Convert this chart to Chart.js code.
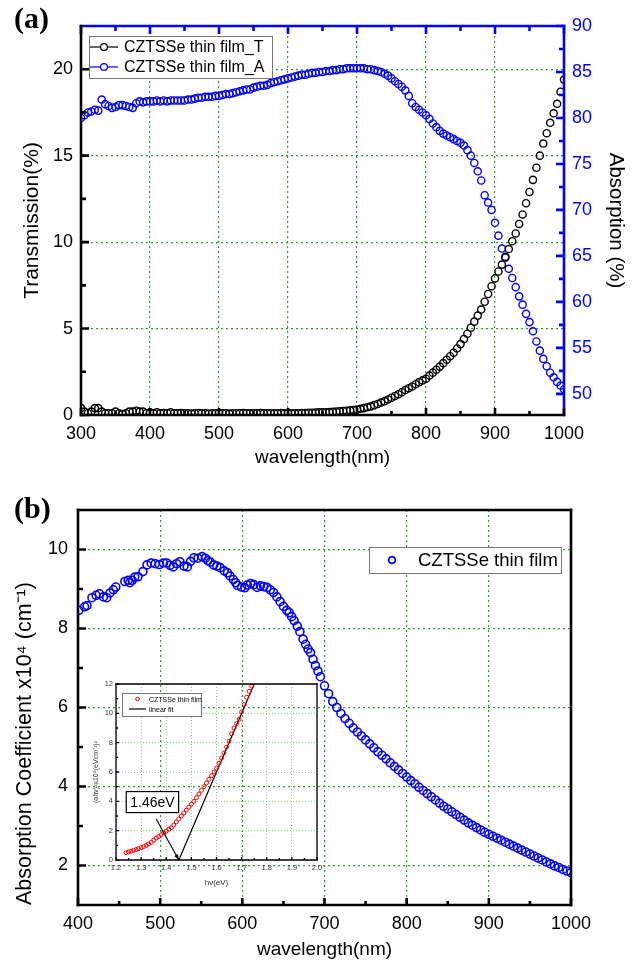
<!DOCTYPE html>
<html>
<head>
<meta charset="utf-8">
<title>CZTSSe thin film</title>
<script src="https://cdn.jsdelivr.net/npm/chart.js@4.4.0/dist/chart.umd.min.js"></script>
<style>
  body { margin: 0; background: #fff; width: 639px; height: 966px; position: relative; overflow: hidden; }
  canvas { position: absolute; }
  .panel { position: absolute; font-family: 'Liberation Serif', 'Times New Roman', serif; font-weight: bold; font-size: 30px; }
</style>
</head>
<body>
<canvas id="chartA" width="639" height="480" style="left:0;top:0"></canvas>
<canvas id="chartB" width="639" height="496" style="left:0;top:470px"></canvas>
<canvas id="inset" width="280" height="232" style="left:60px;top:670px"></canvas>
<div class="panel" style="left:14px;top:1px">(a)</div>
<div class="panel" style="left:14px;top:491px">(b)</div>
<script>

// ---- (a) transmission / absorption vs wavelength ----
const wavelengthA = [
  300,305,310,315,320,325,330,335,340,345, 350,355,360,365,370,375,380,385,390,395,
  400,405,410,415,420,425,430,435,440,445, 450,455,460,465,470,475,480,485,490,495,
  500,505,510,515,520,525,530,535,540,545, 550,555,560,565,570,575,580,585,590,595,
  600,605,610,615,620,625,630,635,640,645, 650,655,660,665,670,675,680,685,690,695,
  700,705,710,715,720,725,730,735,740,745, 750,755,760,765,770,775,780,785,790,795,
  800,805,810,815,820,825,830,835,840,845, 850,855,860,865,870,875,880,885,890,895,
  900,905,910,915,920,925,930,935,940,945, 950,955,960,965,970,975,980,985,990,995,
  1000
];
const transmission = [
  0.4,0.2,0.1,0.2,0.4,0.4,0.2,0.1,0.1,0.1, 0.2,0.1,0.05,0.1,0.2,0.2,0.25,0.2,0.2,0.1,
  0.15,0.1,0.15,0.1,0.12,0.1,0.15,0.1,0.1,0.12, 0.1,0.1,0.08,0.1,0.12,0.1,0.1,0.08,0.1,0.1,
  0.12,0.1,0.1,0.08,0.1,0.1,0.1,0.12,0.1,0.1, 0.1,0.1,0.12,0.1,0.1,0.1,0.1,0.1,0.12,0.1,
  0.1,0.1,0.1,0.1,0.12,0.12,0.13,0.13,0.14,0.15, 0.15,0.16,0.17,0.18,0.2,0.21,0.23,0.25,0.27,0.29,
  0.32,0.36,0.4,0.45,0.5,0.57,0.64,0.72,0.8,0.9, 1.0,1.1,1.2,1.32,1.45,1.55,1.65,1.78,1.9,2.0,
  2.1,2.28,2.45,2.62,2.8,3.0,3.2,3.4,3.6,3.85, 4.1,4.4,4.7,5.05,5.4,5.75,6.1,6.55,7.0,7.45,
  7.9,8.3,8.7,9.15,9.6,10.05,10.5,11.05,11.6,12.25, 12.9,13.6,14.3,15.0,15.7,16.3,16.9,17.45,18.0,18.7,
  19.4
];
const absorption = [
  80.0,80.3,80.6,80.7,80.9,80.8,82.0,81.5,81.3,81.1, 81.2,81.4,81.4,81.3,81.2,81.1,81.6,81.8,81.7,81.8,
  81.8,81.8,81.9,81.8,81.9,81.8,81.9,81.9,81.9,81.9, 81.9,82.0,82.0,82.1,82.2,82.2,82.3,82.3,82.3,82.4,
  82.4,82.5,82.6,82.6,82.7,82.8,82.9,83.0,83.1,83.1, 83.3,83.4,83.5,83.5,83.6,83.8,83.9,84.0,84.1,84.2,
  84.3,84.4,84.5,84.6,84.7,84.7,84.8,84.9,84.9,85.0, 85.0,85.1,85.1,85.2,85.2,85.3,85.3,85.4,85.4,85.4,
  85.4,85.4,85.4,85.3,85.3,85.2,85.1,85.0,84.8,84.6, 84.3,84.0,83.7,83.4,83.0,82.4,81.6,81.2,80.9,80.6,
  80.3,79.9,79.4,79.0,78.6,78.3,78.1,77.9,77.7,77.5, 77.3,77.0,76.5,75.9,75.1,74.2,73.2,71.6,70.8,70.0,
  68.6,67.2,65.8,64.8,63.6,62.6,61.6,60.6,59.7,58.7, 57.8,56.8,55.7,54.7,53.8,53.0,52.3,51.8,51.3,50.9,
  50.5
];
const xTicksA = [300, 400, 500, 600, 700, 800, 900, 1000];
const yTicksA = [0, 5, 10, 15, 20];
const y2TicksA = [50, 55, 60, 65, 70, 75, 80, 85, 90];

// ---- (b) absorption coefficient vs wavelength ----
const wavelengthB = [
  401,408,411,417,422,426,431,435,439,443,446,457,461,463,466,469,473,479,484,489,
  494,499,504,508,512,516,520,524,529,533,537,541,546,551,555,558,561,565,569,573,
  578,582,585,589,592,594,599,603,606,610,614,618,622,626,630,634,638,642,646,650,
  654,657,660,663,667,670,674,677,680,683,686,689,692,
  695,700,705,710,715,720,725,730,735,740, 745,750,755,760,765,770,775,780,785,790,
  795,800,805,810,815,820,825,830,835,840, 845,850,855,860,865,870,875,880,885,890,
  895,900,905,910,915,920,925,930,935,940, 945,950,955,960,965,970,975,980,985,990,
  995,1000
];
const absCoeff = [
  8.46,8.55,8.58,8.78,8.84,8.88,8.80,8.78,8.90,8.98,9.05,9.19,9.22,9.16,9.22,9.30,9.31,9.44,9.61,9.66,
  9.64,9.62,9.66,9.66,9.60,9.56,9.64,9.69,9.58,9.56,9.70,9.79,9.78,9.82,9.78,9.72,9.68,9.61,9.58,9.54,
  9.46,9.41,9.33,9.24,9.16,9.09,9.05,9.03,9.10,9.14,9.11,9.04,9.08,9.06,9.04,8.98,8.91,8.80,8.68,8.56,
  8.46,8.40,8.30,8.20,8.06,7.92,7.73,7.60,7.48,7.39,7.22,7.06,6.92,
  6.78,6.55,6.35,6.15,6.0,5.85,5.72,5.6,5.48,5.38, 5.28,5.18,5.08,4.98,4.88,4.79,4.7,4.6,4.51,4.42,
  4.33,4.24,4.15,4.07,3.98,3.9,3.82,3.74,3.66,3.58, 3.5,3.43,3.36,3.29,3.22,3.15,3.08,3.02,2.96,2.9,
  2.84,2.79,2.74,2.69,2.64,2.59,2.54,2.49,2.44,2.39, 2.34,2.29,2.24,2.19,2.14,2.09,2.04,1.99,1.95,1.9,
  1.86,1.82
];
const xTicksB = [400, 500, 600, 700, 800, 900, 1000];
const yTicksB = [2, 4, 6, 8, 10];

// ---- inset: Tauc plot ----
const photonEnergy = [
  1.24,1.25,1.26,1.27,1.28,1.29,1.30,1.31,1.32,1.33,1.34,1.35,1.36,1.37,1.38,1.39,1.40,
  1.41,1.42,1.43,1.44,1.45,1.46,1.47,1.48,1.49,1.50,1.51,1.52,1.53,1.54,1.55,1.56,1.57,
  1.58,1.59,1.60,1.61,1.62,1.63,1.64,1.65,1.66,1.67,1.68,1.69,1.70,1.71,1.72,1.73,1.74
];
const tauc = [
  0.50,0.55,0.60,0.65,0.71,0.77,0.84,0.91,0.99,1.10,1.20,1.35,1.50,1.60,1.72,1.85,1.98,
  2.10,2.20,2.38,2.60,2.80,3.00,3.20,3.40,3.60,3.80,4.00,4.25,4.50,4.75,5.00,5.25,5.50,
  5.75,6.00,6.25,6.60,6.95,7.30,7.70,8.10,8.60,9.00,9.30,9.60,10.1,10.6,11.1,11.5,11.85
];
const fitEnergy = [1.45, 1.75];
const fitValue = [0, 12];
const xTicksInset = [1.2, 1.3, 1.4, 1.5, 1.6, 1.7, 1.8, 1.9, 2.0];
const yTicksInset = [0, 2, 4, 6, 8, 10, 12];

Chart.defaults.font.family = "'Liberation Sans', Arial, sans-serif";
Chart.defaults.color = '#000';

const pairs = (xs, ys) => xs.map((x, i) => ({ x: x, y: ys[i] }));
const fixTicks = vals => (s => { s.ticks = vals.map(v => ({ value: v })); });
const plain = v => String(v);

// frame lines and inward major/minor ticks
const frameTicks = {
  id: 'frameTicks',
  afterDraw(chart, args, o) {
    const { ctx, chartArea: a } = chart;
    (o.sides || []).forEach(s => {
      ctx.save();
      ctx.strokeStyle = s.color;
      ctx.lineWidth = s.width;
      ctx.lineCap = 'square';
      ctx.beginPath();
      if (s.side === 'left') { ctx.moveTo(a.left, a.top); ctx.lineTo(a.left, a.bottom); }
      if (s.side === 'right') { ctx.moveTo(a.right, a.top); ctx.lineTo(a.right, a.bottom); }
      if (s.side === 'top') { ctx.moveTo(a.left, a.top); ctx.lineTo(a.right, a.top); }
      if (s.side === 'bottom') { ctx.moveTo(a.left, a.bottom); ctx.lineTo(a.right, a.bottom); }
      ctx.stroke();
      if (s.scale) {
        const sc = chart.scales[s.scale];
        const vals = sc.ticks.map(t => t.value);
        const minor = [];
        for (let i = 0; i < vals.length - 1; i++) minor.push((vals[i] + vals[i + 1]) / 2);
        const step = vals[1] - vals[0];
        [vals[0] - step / 2, vals[vals.length - 1] + step / 2].forEach(v => {
          if (v > sc.min && v < sc.max) minor.push(v);
        });
        ctx.lineCap = 'butt';
        const mark = (v, len) => {
          const p = sc.getPixelForValue(v);
          if (s.side === 'left') { ctx.moveTo(a.left, p); ctx.lineTo(a.left + len, p); }
          if (s.side === 'right') { ctx.moveTo(a.right, p); ctx.lineTo(a.right - len, p); }
          if (s.side === 'top') { ctx.moveTo(p, a.top); ctx.lineTo(p, a.top + len); }
          if (s.side === 'bottom') { ctx.moveTo(p, a.bottom); ctx.lineTo(p, a.bottom - len); }
        };
        ctx.beginPath();
        vals.forEach(v => mark(v, s.major));
        minor.forEach(v => mark(v, s.minor));
        ctx.stroke();
      }
      ctx.restore();
    });
  }
};

// legend box drawn inside the plot
const boxLegend = {
  id: 'boxLegend',
  afterDraw(chart, args, o) {
    if (!o.items) return;
    const { ctx, chartArea: a } = chart;
    const x0 = a.left + o.dx, y0 = a.top + o.dy;
    ctx.save();
    ctx.fillStyle = '#fff';
    ctx.fillRect(x0, y0, o.w, o.h);
    ctx.strokeStyle = '#777';
    ctx.lineWidth = 1;
    ctx.strokeRect(x0 + 0.5, y0 + 0.5, o.w, o.h);
    ctx.font = o.font;
    ctx.textBaseline = 'middle';
    o.items.forEach((it, i) => {
      const ds = chart.data.datasets[it.ds];
      const cy = y0 + o.row0 + i * o.rowH;
      ctx.strokeStyle = ds.borderColor;
      ctx.lineWidth = it.lw;
      if (it.line) {
        ctx.beginPath();
        ctx.moveTo(x0 + o.sym0, cy);
        ctx.lineTo(x0 + o.sym1, cy);
        ctx.stroke();
      }
      if (it.r) {
        ctx.beginPath();
        ctx.arc(x0 + (o.sym0 + o.sym1) / 2, cy, it.r, 0, Math.PI * 2);
        ctx.fillStyle = '#fff';
        ctx.fill();
        ctx.stroke();
      }
      ctx.fillStyle = '#000';
      ctx.fillText(ds.label, x0 + o.textX, cy + 1);
    });
    ctx.restore();
  }
};

// boxed label with arrow, placed in data units
const gapNote = {
  id: 'gapNote',
  afterDraw(chart, args, o) {
    if (!o.text) return;
    const { ctx } = chart;
    const xs = chart.scales.x, ys = chart.scales.y;
    const px = p => [xs.getPixelForValue(p[0]), ys.getPixelForValue(p[1])];
    ctx.save();
    ctx.font = o.font;
    const tw = ctx.measureText(o.text).width;
    const [bx, by] = px(o.boxAt);
    const w = tw + 8, h = 21;
    ctx.fillStyle = '#fff';
    ctx.fillRect(bx - w / 2, by - h / 2, w, h);
    ctx.strokeStyle = '#000';
    ctx.lineWidth = 1.2;
    ctx.strokeRect(bx - w / 2, by - h / 2, w, h);
    ctx.fillStyle = '#000';
    ctx.textAlign = 'center';
    ctx.textBaseline = 'middle';
    ctx.fillText(o.text, bx, by + 1);
    const [x1, y1] = px(o.from), [x2, y2] = px(o.to);
    ctx.lineWidth = 1.1;
    ctx.beginPath();
    ctx.moveTo(x1, y1);
    ctx.lineTo(x2, y2);
    ctx.stroke();
    const ang = Math.atan2(y2 - y1, x2 - x1);
    ctx.beginPath();
    ctx.moveTo(x2, y2);
    ctx.lineTo(x2 - 6 * Math.cos(ang - 0.35), y2 - 6 * Math.sin(ang - 0.35));
    ctx.lineTo(x2 - 6 * Math.cos(ang + 0.35), y2 - 6 * Math.sin(ang + 0.35));
    ctx.closePath();
    ctx.fillStyle = '#000';
    ctx.fill();
    ctx.restore();
  }
};

const gridGreen = { color: 'rgba(20,150,20,0.9)', lineWidth: 1.2, drawTicks: false };
const dotted = { display: false, dash: [2, 3] };

new Chart(document.getElementById('chartA'), {
  type: 'line',
  data: {
    datasets: [
      {
        label: 'CZTSSe thin film_T',
        data: pairs(wavelengthA, transmission),
        yAxisID: 'y',
        showLine: false,
        borderColor: '#000',
        pointBackgroundColor: 'rgba(0,0,0,0)',
        pointRadius: 3.6,
        pointBorderWidth: 1.4
      },
      {
        label: 'CZTSSe thin film_A',
        data: pairs(wavelengthA, absorption),
        yAxisID: 'y2',
        showLine: false,
        borderColor: '#0000ff',
        pointBackgroundColor: 'rgba(0,0,0,0)',
        pointRadius: 3.6,
        pointBorderWidth: 1.4
      }
    ]
  },
  options: {
    responsive: false,
    animation: false,
    layout: { padding: { top: 26, left: 0, right: 0, bottom: 0 } },
    plugins: {
      legend: { display: false },
      tooltip: { enabled: false },
      frameTicks: {
        sides: [
          { side: 'top', scale: 'x', color: '#0000ff', width: 2.6, major: 8, minor: 5 },
          { side: 'right', scale: 'y2', color: '#0000ff', width: 2.6, major: 8, minor: 5 },
          { side: 'left', scale: 'y', color: '#000', width: 2.6, major: 8, minor: 5 },
          { side: 'bottom', scale: 'x', color: '#000', width: 2.6, major: 7, minor: 4 }
        ]
      },
      boxLegend: {
        dx: 8, dy: 10, w: 183, h: 42, row0: 11, rowH: 20, sym0: 1, sym1: 29, textX: 35,
        font: "16px 'Liberation Sans', Arial, sans-serif",
        items: [{ ds: 0, line: true, r: 3.4, lw: 1.2 }, { ds: 1, line: true, r: 3.4, lw: 1.2 }]
      }
    },
    scales: {
      x: {
        type: 'linear', min: 300, max: 1000,
        afterBuildTicks: fixTicks(xTicksA),
        afterFit: s => { s.height = 65; },
        ticks: { padding: 8, font: { size: 18 }, callback: plain },
        grid: gridGreen, border: dotted,
        title: { display: true, text: 'wavelength(nm)', font: { size: 19 }, padding: { top: 0, bottom: 11 } }
      },
      y: {
        position: 'left', min: 0, max: 22.5,
        afterBuildTicks: fixTicks(yTicksA),
        afterFit: s => { s.width = 81; },
        ticks: { padding: 8, font: { size: 18 }, callback: plain },
        grid: gridGreen, border: dotted,
        title: { display: true, text: 'Transmission(%)', font: { size: 21 }, padding: { top: 20, bottom: 0 } }
      },
      y2: {
        position: 'right', min: 47.7, max: 90,
        afterBuildTicks: fixTicks(y2TicksA),
        afterFit: s => { s.width = 75; },
        ticks: { padding: 8, color: '#0000ff', font: { size: 18 }, callback: plain },
        grid: { display: false, drawTicks: false }, border: { display: false },
        title: { display: true, text: 'Absorption (%)', color: '#000', font: { size: 20.5 }, padding: { top: 11, bottom: 0 } }
      }
    }
  },
  plugins: [frameTicks, boxLegend]
});

new Chart(document.getElementById('chartB'), {
  type: 'line',
  data: {
    datasets: [
      {
        label: 'CZTSSe thin film',
        data: pairs(wavelengthB, absCoeff),
        showLine: false,
        borderColor: '#0000ff',
        pointBackgroundColor: 'rgba(0,0,0,0)',
        pointRadius: 4,
        pointBorderWidth: 1.6
      }
    ]
  },
  options: {
    responsive: false,
    animation: false,
    layout: { padding: { top: 40, left: 0, right: 68, bottom: 0 } },
    plugins: {
      legend: { display: false },
      tooltip: { enabled: false },
      frameTicks: {
        sides: [
          { side: 'top', color: '#000', width: 2.6 },
          { side: 'right', color: '#000', width: 2.6 },
          { side: 'left', scale: 'y', color: '#000', width: 2.6, major: 8, minor: 5 },
          { side: 'bottom', scale: 'x', color: '#000', width: 2.6, major: 7, minor: 4 }
        ]
      },
      boxLegend: {
        dx: 291, dy: 37, w: 192, h: 26, row0: 13, rowH: 20, sym0: 13, sym1: 33, textX: 49,
        font: "18.5px 'Liberation Sans', Arial, sans-serif",
        items: [{ ds: 0, r: 3.4, lw: 1.8 }]
      }
    },
    scales: {
      x: {
        type: 'linear', min: 400, max: 1000,
        afterBuildTicks: fixTicks(xTicksB),
        afterFit: s => { s.height = 61; },
        ticks: { padding: 8, font: { size: 18 }, callback: plain },
        grid: gridGreen, border: dotted,
        title: { display: true, text: 'wavelength(nm)', font: { size: 19 }, padding: { top: 0, bottom: 5 } }
      },
      y: {
        position: 'left', min: 1, max: 11,
        afterBuildTicks: fixTicks(yTicksB),
        afterFit: s => { s.width = 78; },
        ticks: { padding: 10, font: { size: 18 }, callback: plain },
        grid: gridGreen, border: dotted,
        title: { display: true, align: 'start', text: 'Absorption Coefficient x10\u2074 (cm\u207B\u00B9)', font: { size: 21.5 }, padding: { top: 12, bottom: 0 } }
      }
    }
  },
  plugins: [frameTicks, boxLegend]
});

new Chart(document.getElementById('inset'), {
  type: 'line',
  data: {
    datasets: [
      {
        label: 'CZTSSe thin film',
        data: pairs(photonEnergy, tauc),
        showLine: false,
        borderColor: '#ff0000',
        pointBackgroundColor: 'rgba(0,0,0,0)',
        pointRadius: 2,
        pointBorderWidth: 1
      },
      {
        label: 'linear fit',
        data: pairs(fitEnergy, fitValue),
        borderColor: '#000',
        borderWidth: 1.2,
        pointRadius: 0
      }
    ]
  },
  options: {
    responsive: false,
    animation: false,
    layout: { padding: { top: 14, left: 0, right: 23, bottom: 0 } },
    plugins: {
      legend: { display: false },
      tooltip: { enabled: false },
      frameTicks: {
        sides: [
          { side: 'top', color: '#000', width: 1.3 },
          { side: 'right', color: '#000', width: 1.3 },
          { side: 'left', scale: 'y', color: '#000', width: 1.3, major: 3, minor: 2 },
          { side: 'bottom', scale: 'x', color: '#000', width: 1.3, major: 3, minor: 2 }
        ]
      },
      boxLegend: {
        dx: 6, dy: 9, w: 79, h: 23, row0: 6, rowH: 10, sym0: 7, sym1: 24, textX: 27,
        font: "7px 'Liberation Sans', Arial, sans-serif",
        items: [{ ds: 0, r: 1.8, lw: 1 }, { ds: 1, line: true, lw: 1.2 }]
      },
      gapNote: {
        text: '1.46eV', font: "14px 'Liberation Sans', Arial, sans-serif",
        boxAt: [1.345, 3.95], from: [1.36, 2.8], to: [1.45, 0]
      }
    },
    scales: {
      x: {
        type: 'linear', min: 1.2, max: 2.0,
        afterBuildTicks: fixTicks(xTicksInset),
        afterFit: s => { s.height = 42; },
        ticks: { padding: 3, font: { size: 7.5 }, color: '#333', callback: v => v.toFixed(1) },
        grid: { color: 'rgba(90,190,90,0.7)', lineWidth: 1, drawTicks: false },
        border: { display: false, dash: [1, 2] },
        title: { display: true, text: 'h\u03BD(eV)', font: { size: 8 }, color: '#333', padding: { top: 0, bottom: 14 } }
      },
      y: {
        position: 'left', min: 0, max: 12,
        afterBuildTicks: fixTicks(yTicksInset),
        afterFit: s => { s.width = 56; },
        ticks: { padding: 3, font: { size: 7.5 }, color: '#333' },
        grid: { color: 'rgba(90,190,90,0.7)', lineWidth: 1, drawTicks: false },
        border: { display: false, dash: [1, 2] },
        title: { display: true, text: '(\u03B1h\u03BD)\u00B2x10\u2079(eVcm\u207B\u00B9)\u00B2', font: { size: 7 }, color: '#333', padding: { top: 32, bottom: 0 } }
      }
    }
  },
  plugins: [frameTicks, boxLegend, gapNote]
});

</script>
</body>
</html>
